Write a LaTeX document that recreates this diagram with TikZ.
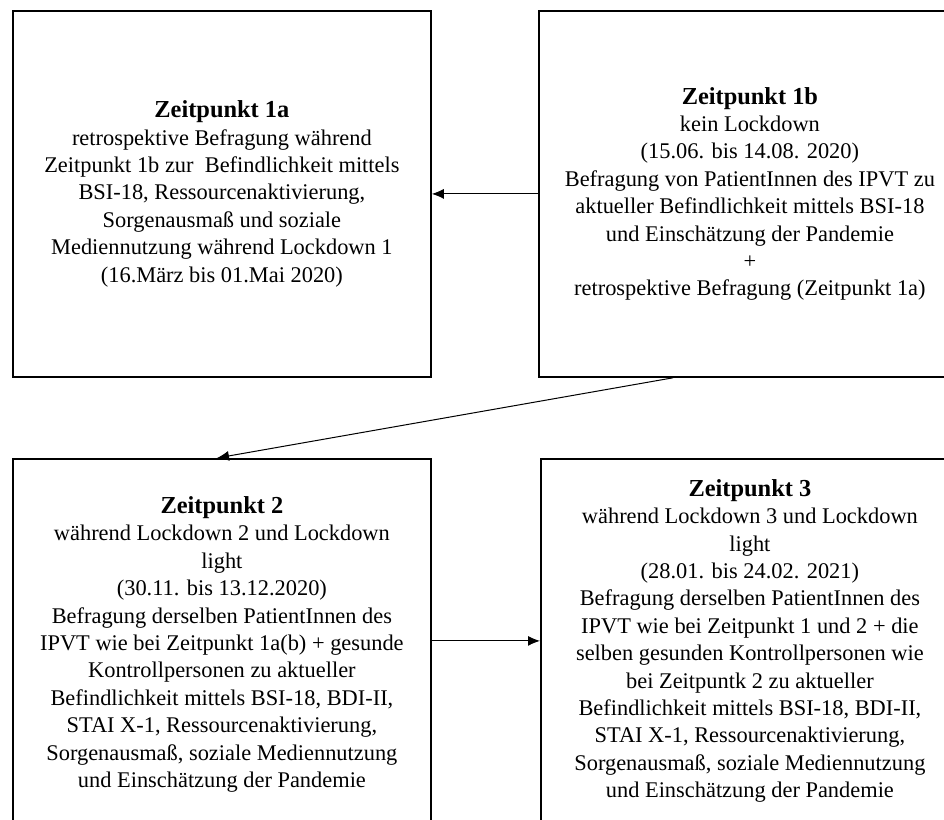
\documentclass[tikz,border=0pt]{standalone}
\usepackage{fontspec}
\setmainfont{Liberation Serif}
\usetikzlibrary{arrows.meta}
\tikzset{
  box/.style={draw=black, line width=1.8pt, align=center, inner sep=0pt,
    font=\fontsize{22.4pt}{27.4pt}\selectfont},
  conn/.style={draw=black, line width=1pt, -{Latex[length=12pt,width=10pt]}}
}
\newcommand{\ttl}[1]{{\fontsize{24.4pt}{27.4pt}\selectfont\bfseries #1}}
\begin{document}
\begin{tikzpicture}[x=1pt,y=-1pt]
\clip (0,0) rectangle (944,819);
\fill[white] (0,0) rectangle (944,819);

\node[box, minimum width=418pt, minimum height=366pt, anchor=north west] (a1) at (12,10)
 {\ttl{Zeitpunkt 1a}\\
  retrospektive Befragung während\\
  Zeitpunkt 1b zur\ \ Befindlichkeit mittels\\
  BSI-18, Ressourcenaktivierung,\\
  Sorgenausmaß und soziale\\
  Mediennutzung während Lockdown 1\\
  (16.März bis 01.Mai 2020)};

\node[box, minimum width=422pt, minimum height=366pt, anchor=north west] (b1) at (538,10)
 {\ttl{Zeitpunkt 1b}\\
  kein Lockdown\\
  (15.06. bis 14.08. 2020)\\
  Befragung von PatientInnen des IPVT zu\\
  aktueller Befindlichkeit mittels BSI-18\\
  und Einschätzung der Pandemie\\
  +\\
  retrospektive Befragung (Zeitpunkt 1a)};

\node[box, minimum width=418pt, minimum height=371pt, anchor=north west] (t2) at (12,458)
 {\ttl{Zeitpunkt 2}\\
  während Lockdown 2 und Lockdown\\
  light\\
  (30.11. bis 13.12.2020)\\
  Befragung derselben PatientInnen des\\
  IPVT wie bei Zeitpunkt 1a(b) + gesunde\\
  Kontrollpersonen zu aktueller\\
  Befindlichkeit mittels BSI-18, BDI-II,\\
  STAI X-1, Ressourcenaktivierung,\\
  Sorgenausmaß, soziale Mediennutzung\\
  und Einschätzung der Pandemie};

\node[box, minimum width=418pt, minimum height=364pt, anchor=north west] (t3) at (540,458)
 {\ttl{Zeitpunkt 3}\\
  während Lockdown 3 und Lockdown\\
  light\\
  (28.01. bis 24.02. 2021)\\
  Befragung derselben PatientInnen des\\
  IPVT wie bei Zeitpunkt 1 und 2 + die\\
  selben gesunden Kontrollpersonen wie\\
  bei Zeitpuntk 2 zu aktueller\\
  Befindlichkeit mittels BSI-18, BDI-II,\\
  STAI X-1, Ressourcenaktivierung,\\
  Sorgenausmaß, soziale Mediennutzung\\
  und Einschätzung der Pandemie};

\coordinate (s1) at ([xshift=135pt]b1.south west);
\coordinate (e1) at ([xshift=205pt]t2.north west);

\draw[conn] (b1.west) -- (a1.east);
\draw[conn] (s1) -- (e1);
\draw[conn] (t2.east |- t3.west) -- (t3.west);
\end{tikzpicture}
\end{document}
